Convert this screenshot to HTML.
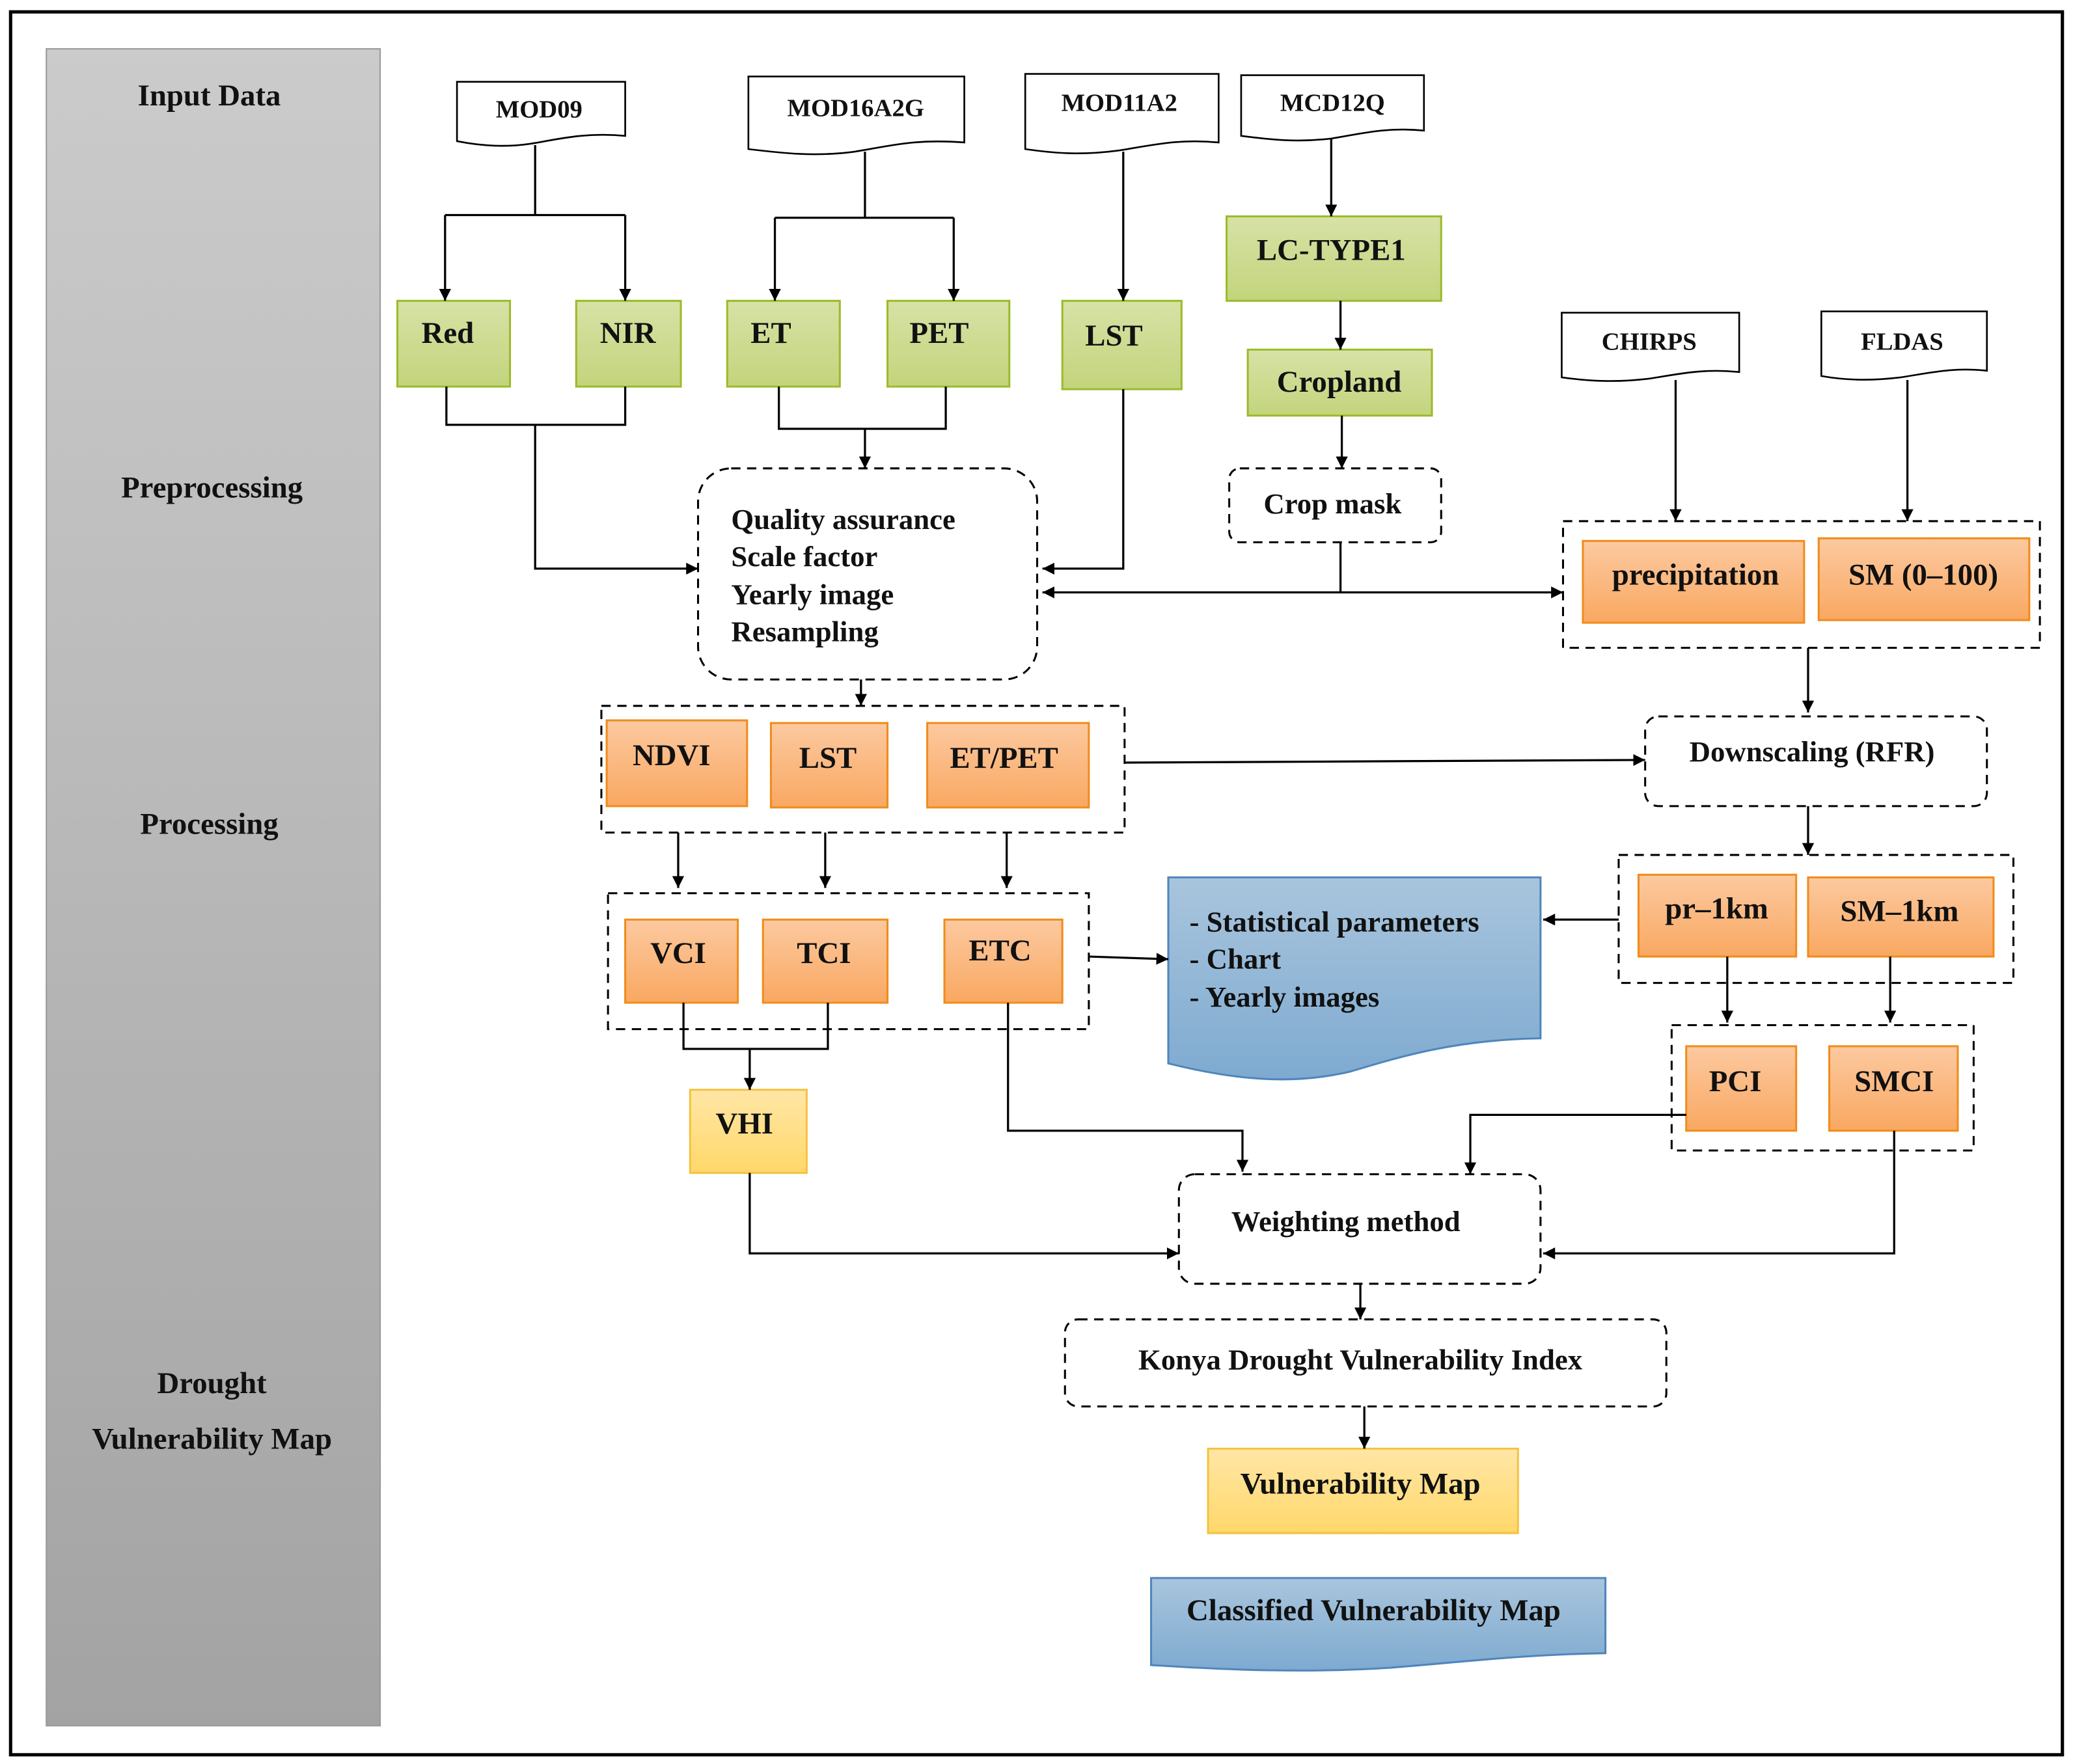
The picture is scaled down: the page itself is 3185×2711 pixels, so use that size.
<!DOCTYPE html>
<html><head><meta charset="utf-8"><style>
html,body{margin:0;padding:0;background:#fff}
svg{display:block}
text{font-family:"Liberation Serif","DejaVu Serif",serif;font-weight:bold;fill:#111}
</style></head><body>
<svg width="3185" height="2711" viewBox="0 0 1565 1337" preserveAspectRatio="none" xmlns="http://www.w3.org/2000/svg" font-family="Liberation Serif, DejaVu Serif, serif" font-weight="bold">
<defs>
<linearGradient id="gray" x1="0" y1="0" x2="0" y2="1"><stop offset="0" stop-color="#cbcbcb"/><stop offset="1" stop-color="#a3a3a3"/></linearGradient>
<linearGradient id="grn" x1="0" y1="0" x2="0" y2="1"><stop offset="0" stop-color="#d7e2a6"/><stop offset="1" stop-color="#c3d47c"/></linearGradient>
<linearGradient id="org" x1="0" y1="0" x2="0" y2="1"><stop offset="0" stop-color="#fcc9a0"/><stop offset="1" stop-color="#f9a861"/></linearGradient>
<linearGradient id="yel" x1="0" y1="0" x2="0" y2="1"><stop offset="0" stop-color="#ffe6a6"/><stop offset="1" stop-color="#ffd86a"/></linearGradient>
<linearGradient id="blu" x1="0" y1="0" x2="0" y2="1"><stop offset="0" stop-color="#a9c5dd"/><stop offset="1" stop-color="#7eaad0"/></linearGradient>
<marker id="a" viewBox="0 0 10 10" refX="10" refY="5" markerWidth="9" markerHeight="9" markerUnits="userSpaceOnUse" orient="auto"><path d="M0,0 L10,5 L0,10 z" fill="#000"/></marker>
<marker id="as" viewBox="0 0 10 10" refX="0" refY="5" markerWidth="9" markerHeight="9" markerUnits="userSpaceOnUse" orient="auto"><path d="M10,0 L0,5 L10,10 z" fill="#000"/></marker>
</defs>
<rect x="8" y="9" width="1549" height="1321" fill="#fff" stroke="#000" stroke-width="2.5"/>
<rect x="35" y="37" width="252" height="1271" fill="url(#gray)" stroke="#999" stroke-width="1"/>
<g font-size="23" text-anchor="middle">
<text x="158" y="80">Input Data</text>
<text x="160" y="377">Preprocessing</text>
<text x="158" y="632">Processing</text>
<text x="160" y="1056">Drought</text>
<text x="160" y="1098">Vulnerability Map</text>
</g>
<g fill="#fff" stroke="#000" stroke-width="1.3">
<path d="M345,62 H472 V103 C440,100 420,106 400,109 C380,112 360,110 345,107 Z"/>
<path d="M565,58 H728 V108 C690,105 670,111 645,115 C615,119 590,116 565,113 Z"/>
<path d="M774,56 H920 V108 C890,105 870,110 845,114 C815,118 795,116 774,113 Z"/>
<path d="M937,57 H1075 V99 C1045,96 1025,102 1005,105 C980,108 960,106 937,103 Z"/>
<path d="M1179,237 H1313 V282 C1285,279 1265,284 1245,287 C1220,290 1200,289 1179,286 Z"/>
<path d="M1375,236 H1500 V281 C1475,278 1455,283 1435,286 C1410,289 1392,288 1375,285 Z"/>
</g>
<g font-size="19" text-anchor="middle">
<text x="407" y="89">MOD09</text>
<text x="646" y="88">MOD16A2G</text>
<text x="845" y="84">MOD11A2</text>
<text x="1006" y="84">MCD12Q</text>
<text x="1245" y="265">CHIRPS</text>
<text x="1436" y="265">FLDAS</text>
</g>
<g fill="url(#grn)" stroke="#9bbb2c" stroke-width="1.5">
<rect x="300" y="228" width="85" height="65"/>
<rect x="435" y="228" width="79" height="65"/>
<rect x="549" y="228" width="85" height="65"/>
<rect x="670" y="228" width="92" height="65"/>
<rect x="802" y="228" width="90" height="67"/>
<rect x="926" y="164" width="162" height="64"/>
<rect x="942" y="265" width="139" height="50"/>
</g>
<g font-size="23" text-anchor="middle">
<text x="338" y="260">Red</text>
<text x="474" y="260">NIR</text>
<text x="582" y="260">ET</text>
<text x="709" y="260">PET</text>
<text x="841" y="262">LST</text>
<text x="1005" y="197">LC-TYPE1</text>
<text x="1011" y="297">Cropland</text>
</g>
<g fill="url(#org)" stroke="#f08c1c" stroke-width="1.5">
<rect x="1195" y="410" width="167" height="62"/>
<rect x="1373" y="408" width="159" height="62"/>
<rect x="1237" y="663" width="119" height="62"/>
<rect x="1365" y="665" width="140" height="60"/>
<rect x="1273" y="793" width="83" height="64"/>
<rect x="1381" y="793" width="97" height="64"/>
<rect x="458" y="546" width="106" height="65"/>
<rect x="582" y="548" width="88" height="64"/>
<rect x="700" y="548" width="122" height="64"/>
<rect x="472" y="697" width="85" height="63"/>
<rect x="576" y="697" width="94" height="63"/>
<rect x="713" y="697" width="89" height="63"/>
</g>
<g font-size="23" text-anchor="middle">
<text x="1280" y="443">precipitation</text>
<text x="1452" y="443">SM (0–100)</text>
<text x="1296" y="696">pr–1km</text>
<text x="1434" y="698">SM–1km</text>
<text x="1310" y="827">PCI</text>
<text x="1430" y="827">SMCI</text>
<text x="507" y="580">NDVI</text>
<text x="625" y="582">LST</text>
<text x="758" y="582">ET/PET</text>
<text x="512" y="730">VCI</text>
<text x="622" y="730">TCI</text>
<text x="755" y="728">ETC</text>
</g>
<rect x="521" y="826" width="88" height="63" fill="url(#yel)" stroke="#f5c242" stroke-width="1.5"/>
<rect x="912" y="1098" width="234" height="64" fill="url(#yel)" stroke="#f5c242" stroke-width="1.5"/>
<text x="562" y="859" font-size="23" text-anchor="middle">VHI</text>
<text x="1027" y="1132" font-size="23" text-anchor="middle">Vulnerability Map</text>
<path d="M882,665 H1163 V787 C1100,788 1060,800 1020,812 C975,823 930,818 882,806 Z" fill="url(#blu)" stroke="#4f86bb" stroke-width="1.5"/>
<path d="M869,1196 H1212 V1253 C1150,1254 1100,1260 1050,1264 C990,1268 930,1266 869,1262 Z" fill="url(#blu)" stroke="#4f86bb" stroke-width="1.5"/>
<g font-size="22">
<text x="898" y="706">- Statistical parameters</text>
<text x="898" y="734">- Chart</text>
<text x="898" y="763">- Yearly images</text>
</g>
<text x="1037" y="1228" font-size="23" text-anchor="middle">Classified Vulnerability Map</text>
<g fill="none" stroke="#000" stroke-width="1.5" stroke-dasharray="7,5">
<rect x="527" y="355" width="256" height="160" rx="25"/>
<rect x="928" y="355" width="160" height="56" rx="8"/>
<rect x="1180" y="395" width="360" height="96"/>
<rect x="1242" y="543" width="258" height="68" rx="10"/>
<rect x="1222" y="648" width="298" height="97"/>
<rect x="1262" y="777" width="228" height="95"/>
<rect x="454" y="535" width="395" height="96"/>
<rect x="459" y="677" width="363" height="103"/>
<rect x="890" y="890" width="273" height="83" rx="12"/>
<rect x="804" y="1000" width="454" height="66" rx="10"/>
</g>
<g font-size="22">
<text x="552" y="401">Quality assurance</text>
<text x="552" y="429">Scale factor</text>
<text x="552" y="458">Yearly image</text>
<text x="552" y="486">Resampling</text>
</g>
<g font-size="22" text-anchor="middle">
<text x="1006" y="389">Crop mask</text>
<text x="1368" y="577">Downscaling (RFR)</text>
<text x="1016" y="933">Weighting method</text>
<text x="1027" y="1038">Konya Drought Vulnerability  Index</text>
</g>
<g fill="none" stroke="#000" stroke-width="1.6">
<path d="M404,110 V163 M336,163 H472"/>
<path d="M336,163 V228" marker-end="url(#a)"/>
<path d="M472,163 V228" marker-end="url(#a)"/>
<path d="M653,115 V165 M585,165 H720"/>
<path d="M585,165 V228" marker-end="url(#a)"/>
<path d="M720,165 V228" marker-end="url(#a)"/>
<path d="M848,115 V228" marker-end="url(#a)"/>
<path d="M1005,105 V164" marker-end="url(#a)"/>
<path d="M1012,228 V265" marker-end="url(#a)"/>
<path d="M1013,315 V355" marker-end="url(#a)"/>
<path d="M337,293 V322 H472 V293 M404,322 V431 H527" marker-end="url(#a)"/>
<path d="M588,293 V325 H714 V293 M653,325 V355" marker-end="url(#a)"/>
<path d="M848,295 V431 H787" marker-end="url(#a)"/>
<path d="M1012,411 V449"/>
<path d="M787,449 H1180" marker-start="url(#as)" marker-end="url(#a)"/>
<path d="M1265,288 V395" marker-end="url(#a)"/>
<path d="M1440,288 V395" marker-end="url(#a)"/>
<path d="M1365,491 V540" marker-end="url(#a)"/>
<path d="M1365,611 V648" marker-end="url(#a)"/>
<path d="M1222,697 H1165" marker-end="url(#a)"/>
<path d="M1304,725 V775" marker-end="url(#a)"/>
<path d="M1427,725 V775" marker-end="url(#a)"/>
<path d="M1273,845 H1110 V890" marker-end="url(#a)"/>
<path d="M1430,857 V950 H1165" marker-end="url(#a)"/>
<path d="M650,515 V535" marker-end="url(#a)"/>
<path d="M849,578 L1242,576" marker-end="url(#a)"/>
<path d="M512,631 V673" marker-end="url(#a)"/>
<path d="M623,631 V673" marker-end="url(#a)"/>
<path d="M760,631 V673" marker-end="url(#a)"/>
<path d="M822,725 L882,727" marker-end="url(#a)"/>
<path d="M516,760 V795 H625 V760 M566,795 V826" marker-end="url(#a)"/>
<path d="M566,889 V950 H890" marker-end="url(#a)"/>
<path d="M761,760 V857 H938 V888" marker-end="url(#a)"/>
<path d="M1027,973 V1000" marker-end="url(#a)"/>
<path d="M1030,1066 V1098" marker-end="url(#a)"/>
</g>
</svg>
</body></html>
